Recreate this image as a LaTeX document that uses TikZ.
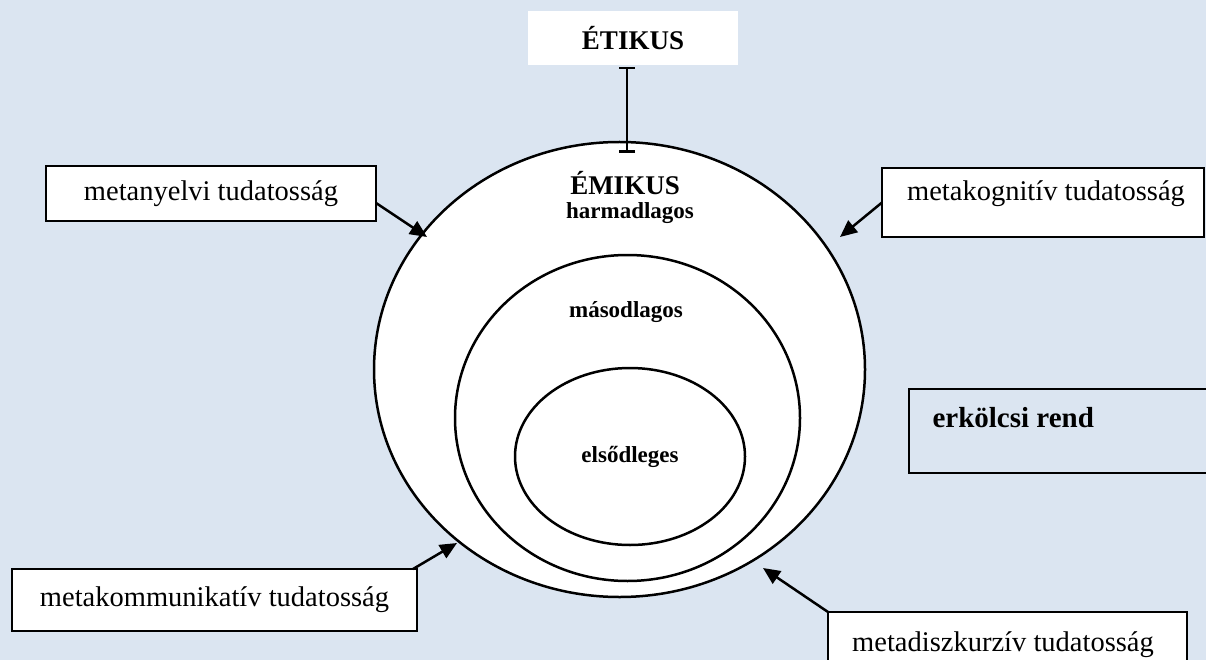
\documentclass[tikz,border=0pt]{standalone}
\usepackage{fontspec}
\setmainfont{Liberation Serif}
\usetikzlibrary{shapes.geometric,arrows.meta}
\definecolor{bgblue}{HTML}{DBE5F1}
\tikzset{
  lbl/.style={draw=black, line width=1.8pt, fill=white, inner sep=0pt, outer sep=0pt, font=\fontsize{28.5}{32}\selectfont},
  ring/.style={ellipse, draw=black, line width=2.5pt, fill=white, inner sep=0pt, outer sep=0pt},
  layer/.style={font=\fontsize{23}{26}\selectfont\bfseries},
  pointer/.style={line width=2.5pt, -{Triangle[length=17pt,width=15pt]}},
}
\begin{document}
\begin{tikzpicture}[x=1pt,y=-1pt]
\clip (0,0) rectangle (1206,660);
\fill[bgblue] (0,0) rectangle (1206,660);
% ellipses
\node[ring, minimum width=491pt, minimum height=455pt] (outer) at (619.5,369.5) {};
\node[ring, minimum width=345pt, minimum height=326pt] (middle) at (627.5,418) {};
\node[ring, minimum width=230pt, minimum height=177pt] (inner) at (630,456.5) {};
% layer texts
\node[font=\fontsize{27}{30}\selectfont\bfseries] (emikus) at (625,183) {ÉMIKUS};
\node[layer] (harm) at (630,213) {harmadlagos};
\node[layer] (masod) at (626,312) {másodlagos};
\node[layer] (elso) at (630,457) {elsődleges};
% etikus
\node[fill=white, minimum width=210pt, minimum height=54pt, inner sep=0pt, font=\fontsize{27}{30}\selectfont\bfseries] (etikus) at (633,38) {ÉTIKUS};
\coordinate (etop) at (627,67);
\coordinate (ebot) at (627,153);
\draw[line width=2.5pt, {Bar[width=16pt,line width=2.5pt]}-{Bar[width=16pt,line width=2.5pt]}] (etop) -- (ebot);
% label boxes
\node[lbl, minimum width=330pt, minimum height=55pt] (mn) at (211,193.5) {metanyelvi tudatosság};
\node[lbl, minimum width=322pt, minimum height=69pt] (mk) at (1043,202.5) {};
\node[font=\fontsize{28.5}{32}\selectfont] (mktext) at (1046,194) {metakognitív tudatosság};
\node[lbl, minimum width=405pt, minimum height=62pt] (mkom) at (214.5,600) {metakommunikatív tudatosság};
\node[lbl, minimum width=359pt, minimum height=80pt] (md) at (1007.5,652) {};
\node[font=\fontsize{28.5}{32}\selectfont] (mdtext) at (1003,645) {metadiszkurzív tudatosság};
\node[draw=black, line width=1.8pt, inner sep=0pt, outer sep=0pt, minimum width=310pt, minimum height=84pt] (erk) at (1064,431) {};
\node[anchor=west, font=\fontsize{29}{32}\selectfont\bfseries] (erktext) at (929,418) {erkölcsi rend};
% arrows
\coordinate (t1) at (427,237);
\coordinate (t2) at (840,237);
\coordinate (t3) at (457,543);
\coordinate (t4) at (763,568);
\draw[pointer] ([yshift=-9.5pt]mn.east) -- (t1);
\draw[pointer] (mk.west) -- (t2);
\draw[pointer] ([xshift=-4pt]mkom.north east) -- (t3);
\draw[pointer] (md.north west) -- (t4);
\end{tikzpicture}
\end{document}
